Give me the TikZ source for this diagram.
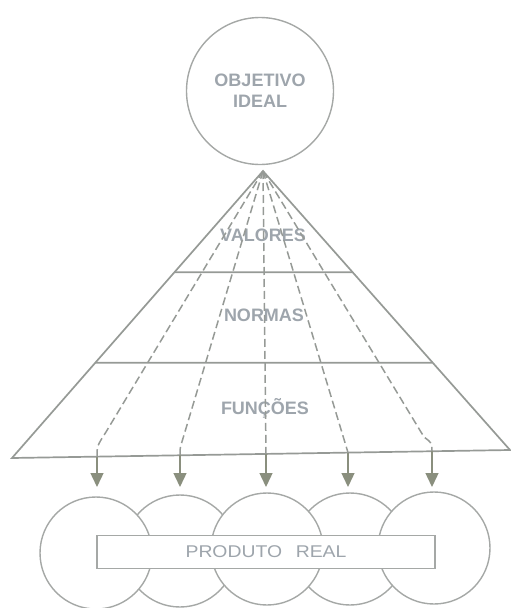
\documentclass[tikz,border=0pt]{standalone}
\usepackage{fontspec}
\setmainfont{Liberation Sans}
\usetikzlibrary{arrows.meta,calc}
\definecolor{lg}{RGB}{150,154,150}
\definecolor{cg}{RGB}{165,168,166}
\definecolor{tg}{RGB}{158,165,172}
\definecolor{ag}{RGB}{138,143,126}
\begin{document}
\begin{tikzpicture}[x=1pt,y=-1pt,
  lbl/.style={font=\bfseries\fontsize{18}{21}\selectfont, text=tg, inner sep=0pt},
  frame/.style={draw=lg, line width=1.7pt, line join=miter},
  ring/.style={circle, draw=cg, line width=1.4pt, fill=white, minimum size=112pt, inner sep=0pt},
  flow/.style={draw=lg, line width=1.5pt, dash pattern=on 8pt off 4pt},
  stem/.style={draw=ag, fill=ag, line width=1.4pt, -{Triangle[width=13pt,length=14pt]}}]
\useasboundingbox (0,0) rectangle (511,608);

% top circle
\node[circle, draw=cg, line width=1.4pt, minimum size=147pt, inner sep=0pt,
      align=center, lbl] (obj) at (260,91) {OBJETIVO\\IDEAL};

% pyramid
\coordinate (apex) at (263,171);
\coordinate (bl) at (12,458);
\coordinate (br) at (510,450);
\coordinate (l1) at ($(apex)!0.353!(bl)$);
\coordinate (r1) at ($(apex)!0.363!(br)$);
\coordinate (l2) at ($(apex)!0.668!(bl)$);
\coordinate (r2) at ($(apex)!0.687!(br)$);
\draw[frame] (bl) -- (apex) -- (br) -- cycle;
\draw[frame] (l1) -- (r1);
\draw[frame] (l2) -- (r2);

\node[lbl, anchor=base] (val) at (263,241.5) {VALORES};
\node[lbl, anchor=base] (nor) at (264,321.5) {NORMAS};
\node[lbl, anchor=base] (fun) at (265,414.5) {FUNÇÕES};

% flow lines
\coordinate (s1) at (97,456.6);
\coordinate (s2) at (180,455.3);
\coordinate (s3) at (266,453.9);
\coordinate (s4) at (348,452.6);
\coordinate (s5) at (432,451.3);
\coordinate (t1) at (97,487);
\coordinate (t2) at (180,487);
\coordinate (t3) at (266,487);
\coordinate (t4) at (348,487);
\coordinate (t5) at (432,487);
\draw[flow] (apex) -- (106,432) .. controls (97,446) .. (s1);
\draw[flow] (apex) -- (182.5,440) .. controls (180,448) .. (s2);
\draw[flow] (apex) -- (s3);
\draw[flow] (apex) -- (s4);
\draw[flow] (apex) -- (424,437) .. controls (432,443) .. (s5);
\foreach \i in {1,...,5} \draw[stem] (s\i) -- (t\i);

% product circles
\node[ring] (c2) at (180,551) {};
\node[ring] (c4) at (350,549) {};
\node[ring] (c1) at (96,553) {};
\node[ring] (c3) at (267,549) {};
\node[ring] (c5) at (434,548) {};
\node[draw=cg, line width=1.4pt, fill=white, minimum width=338pt, minimum height=33pt,
      inner sep=0pt, font=\fontsize{17}{20}\selectfont, text=tg] (prod) at (266,552)
      {\scalebox{1.14}[1]{PRODUTO\hspace{12pt}REAL}};
\end{tikzpicture}
\end{document}
